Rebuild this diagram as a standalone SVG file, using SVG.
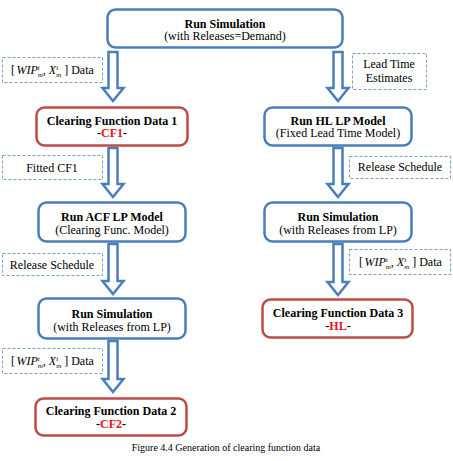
<svg xmlns="http://www.w3.org/2000/svg" width="453" height="461" viewBox="0 0 453 461">
<style>
.bn{fill:#fff;stroke:#4a7ebb;stroke-width:2.5}
.rn{fill:#fff;stroke:#be4b48;stroke-width:2.5}
.lb{fill:#fff;stroke:#7a9fcc;stroke-width:1;stroke-dasharray:3,2}
.ar{fill:#fff;stroke:#4a7ebb;stroke-width:2.5;stroke-linejoin:miter}
text{font-family:"Liberation Serif","Times New Roman",serif;font-size:12px;fill:#000}
.b{font-weight:bold;text-anchor:middle}
.m{text-anchor:middle}
.red{fill:#e8141c}
.it{font-style:italic}
.s{font-size:7px}
</style>
<rect width="453" height="461" fill="#fff"/>
<g id="connectors">
<path class="ar" d="M108.5 52 H117.5 V88 H123.5 L113 101 L102.5 88 H108.5 Z"/>
<path class="ar" d="M333.5 52 H342.5 V88 H348.5 L338 101 L327.5 88 H333.5 Z"/>
<path class="ar" d="M108.5 148 H117.5 V184 H123.5 L113 197 L102.5 184 H108.5 Z"/>
<path class="ar" d="M333.5 148 H342.5 V184 H348.5 L338 197 L327.5 184 H333.5 Z"/>
<path class="ar" d="M108.5 244 H117.5 V281 H123.5 L113 294 L102.5 281 H108.5 Z"/>
<path class="ar" d="M333.5 244 H342.5 V282 H348.5 L338 295 L327.5 282 H333.5 Z"/>
<path class="ar" d="M108.5 341 H117.5 V379 H123.5 L113 392 L102.5 379 H108.5 Z"/>
</g>
<g id="lbl1">
<rect class="lb" x="2.5" y="57.5" width="100" height="25"/>
<text x="11" y="74">[<tspan class="it" dx="1.5">WIP</tspan><tspan class="s it" dy="-4">t</tspan><tspan class="s it" dx="-2" dy="6.5">m</tspan><tspan dy="-2.5">, </tspan><tspan class="it">X</tspan><tspan class="s it" dy="-4">t</tspan><tspan class="s it" dx="-2" dy="6.5">m</tspan><tspan dy="-2.5"> ] Data</tspan></text>
</g>
<g id="lbl2">
<rect class="lb" x="352.5" y="53.5" width="74" height="36"/>
<text class="m" x="389" y="68">Lead Time</text>
<text class="m" x="389" y="82">Estimates</text>
</g>
<g id="lbl3">
<rect class="lb" x="2.5" y="155.5" width="100" height="24"/>
<text class="m" x="52" y="171.5">Fitted CF1</text>
</g>
<g id="lbl4">
<rect class="lb" x="349.5" y="156.5" width="101" height="22"/>
<text class="m" x="400" y="171">Release Schedule</text>
</g>
<g id="lbl5">
<rect class="lb" x="2.5" y="253.5" width="100" height="22"/>
<text class="m" x="52" y="268.5">Release Schedule</text>
</g>
<g id="lbl6">
<rect class="lb" x="349.5" y="249.5" width="101" height="25"/>
<text x="359" y="266">[<tspan class="it" dx="1.5">WIP</tspan><tspan class="s it" dy="-4">t</tspan><tspan class="s it" dx="-2" dy="6.5">m</tspan><tspan dy="-2.5">, </tspan><tspan class="it">X</tspan><tspan class="s it" dy="-4">t</tspan><tspan class="s it" dx="-2" dy="6.5">m</tspan><tspan dy="-2.5"> ] Data</tspan></text>
</g>
<g id="lbl7">
<rect class="lb" x="2.5" y="348.5" width="100" height="25"/>
<text x="11" y="365">[<tspan class="it" dx="1.5">WIP</tspan><tspan class="s it" dy="-4">t</tspan><tspan class="s it" dx="-2" dy="6.5">m</tspan><tspan dy="-2.5">, </tspan><tspan class="it">X</tspan><tspan class="s it" dy="-4">t</tspan><tspan class="s it" dx="-2" dy="6.5">m</tspan><tspan dy="-2.5"> ] Data</tspan></text>
</g>
<g id="runSim1">
<rect class="bn" x="107.5" y="9.5" width="235" height="38" rx="8"/>
<text class="b" x="225" y="27.5">Run Simulation</text>
<text class="m" x="225" y="40">(with Releases=Demand)</text>
</g>
<g id="cf1">
<rect class="rn" x="36.5" y="107.5" width="151" height="38" rx="8"/>
<text class="b" x="112" y="124.5">Clearing Function Data 1</text>
<text class="b" x="112" y="137">-<tspan class="red">CF1</tspan>-</text>
</g>
<g id="hlLP">
<rect class="bn" x="264.5" y="107.5" width="147" height="38" rx="8"/>
<text class="b" x="338" y="124.5">Run HL LP Model</text>
<text class="m" x="338" y="137">(Fixed Lead Time Model)</text>
</g>
<g id="acfLP">
<rect class="bn" x="38.5" y="202.5" width="147" height="39" rx="8"/>
<text class="b" x="112" y="221">Run ACF LP Model</text>
<text class="m" x="112" y="234">(Clearing Func. Model)</text>
</g>
<g id="runSim2">
<rect class="bn" x="264.5" y="202.5" width="147" height="39" rx="8"/>
<text class="b" x="338" y="221">Run Simulation</text>
<text class="m" x="338" y="234">(with Releases from LP)</text>
</g>
<g id="runSim3">
<rect class="bn" x="38.5" y="298.5" width="147" height="40" rx="8"/>
<text class="b" x="112" y="318">Run Simulation</text>
<text class="m" x="112" y="331">(with Releases from LP)</text>
</g>
<g id="cf3">
<rect class="rn" x="262.5" y="299.5" width="150" height="38" rx="8"/>
<text class="b" x="338" y="317">Clearing Function Data 3</text>
<text class="b" x="338" y="330">-<tspan class="red">HL</tspan>-</text>
</g>
<g id="cf2">
<rect class="rn" x="35.5" y="398.5" width="151" height="37" rx="8"/>
<text class="b" x="111" y="415">Clearing Function Data 2</text>
<text class="b" x="111" y="428">-<tspan class="red">CF2</tspan>-</text>
</g>
<text class="m" x="226" y="451" style="font-size:10px">Figure 4.4 Generation of clearing function data</text>
</svg>
